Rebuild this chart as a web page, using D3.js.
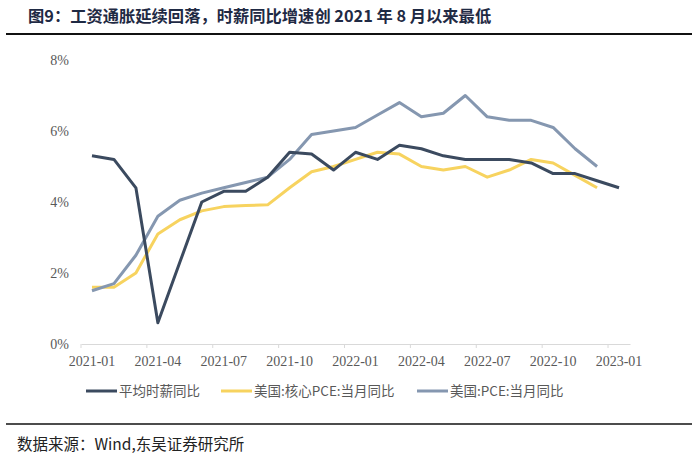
<!DOCTYPE html>
<html><head><meta charset="utf-8">
<script src="https://cdn.jsdelivr.net/npm/d3@7"></script>
<style>body{margin:0;background:#fff}svg{display:block}
.ax text{font-family:"Liberation Serif",serif;font-size:14px;fill:#595959}</style>
</head><body>
<svg id="c" width="700" height="464"></svg>
<script>
const months = ["2021-01","2021-02","2021-03","2021-04","2021-05","2021-06","2021-07","2021-08","2021-09","2021-10","2021-11","2021-12",
"2022-01","2022-02","2022-03","2022-04","2022-05","2022-06","2022-07","2022-08","2022-09","2022-10","2022-11","2022-12","2023-01"];
const xTickLabels = ["2021-01","2021-04","2021-07","2021-10","2022-01","2022-04","2022-07","2022-10","2023-01"];
const yTicks = [0,2,4,6,8];
const seriesNames = ["平均时薪同比","美国:核心PCE:当月同比","美国:PCE:当月同比"];
const wages = [5.3,5.2,4.4,0.6,2.3,4.0,4.3,4.3,4.7,5.4,5.35,4.9,5.4,5.2,5.6,5.5,5.3,5.2,5.2,5.2,5.1,4.8,4.8,4.6,4.4];
const corePce = [1.6,1.6,2.0,3.1,3.5,3.75,3.87,3.9,3.92,4.4,4.85,5.0,5.2,5.4,5.35,5.0,4.9,5.0,4.7,4.9,5.2,5.1,4.75,4.4];
const pce = [1.5,1.7,2.5,3.6,4.05,4.25,4.4,4.55,4.7,5.2,5.9,6.0,6.1,6.45,6.8,6.4,6.5,7.0,6.4,6.3,6.3,6.1,5.5,5.0];
const colors = ["#3b4a5f","#f7d35f","#8597b0"];

const svg = d3.select("#c");
const x = d3.scaleBand().domain(months).range([81,630]).padding(0);
const y = d3.scaleLinear().domain([0,8]).range([344,60]);
const cx = m => x(m) + x.bandwidth()/2;

// title
svg.append("text").attr("x",28).attr("y",22)
  .style("font-family","'Noto Sans CJK SC'").style("font-weight","bold").style("font-size","16.3px")
  .attr("fill","#1f2a44").text("图9：工资通胀延续回落，时薪同比增速创 2021 年 8 月以来最低");
svg.append("line").attr("x1",6).attr("x2",692).attr("y1",34).attr("y2",34).attr("stroke","#111").attr("stroke-width",2.2);

// y axis labels
const yAxis = d3.axisLeft(y).tickValues(yTicks).tickFormat(d=>d+"%").tickSize(0).tickPadding(0);
const gy = svg.append("g").attr("class","ax").attr("transform","translate(69,0)").call(yAxis);
gy.select(".domain").remove();
gy.attr("font-family",null).attr("font-size",null);

// x axis
const xAxis = d3.axisBottom(x).tickValues(xTickLabels).tickSize(0);
const gx = svg.append("g").attr("class","ax").attr("transform","translate(0,344)").call(xAxis);
gx.attr("font-family",null).attr("font-size",null);
gx.select(".domain").attr("stroke","#d9d9d9").attr("stroke-width",1);
gx.selectAll("text").attr("y",22).attr("dy",null);
gx.selectAll(".tickmark").data(xTickLabels).enter().append("line")
  .attr("x1",d=>x(d)).attr("x2",d=>x(d)).attr("y1",0).attr("y2",4).attr("stroke","#d9d9d9");

// lines
const line = d3.line().x((d,i)=>cx(months[i])).y(d=>y(d));
const paths = [wages,corePce,pce].map((s,i)=>
  svg.append("path").datum(s).attr("d",line).attr("fill","none")
    .attr("stroke",colors[i]).attr("stroke-width",3).attr("stroke-linejoin","round"));
paths[0].raise();

// legend
const legX = [86,221,417];
seriesNames.forEach((n,i)=>{
  svg.append("line").attr("x1",legX[i]).attr("x2",legX[i]+31).attr("y1",391).attr("y2",391)
    .attr("stroke",colors[i]).attr("stroke-width",3);
  svg.append("text").attr("x",legX[i]+33).attr("y",396).style("font-family","'Noto Sans CJK SC'")
    .style("font-size","13.5px").attr("fill","#595959").text(n);
});

// footer
svg.append("line").attr("x1",6).attr("x2",692).attr("y1",424).attr("y2",424).attr("stroke","#111").attr("stroke-width",1.5);
svg.append("text").attr("x",17).attr("y",450).style("font-family","'Noto Sans CJK SC'")
  .style("font-size","15.5px").attr("fill","#222").text("数据来源：Wind,东吴证券研究所");
</script>
</body></html>
